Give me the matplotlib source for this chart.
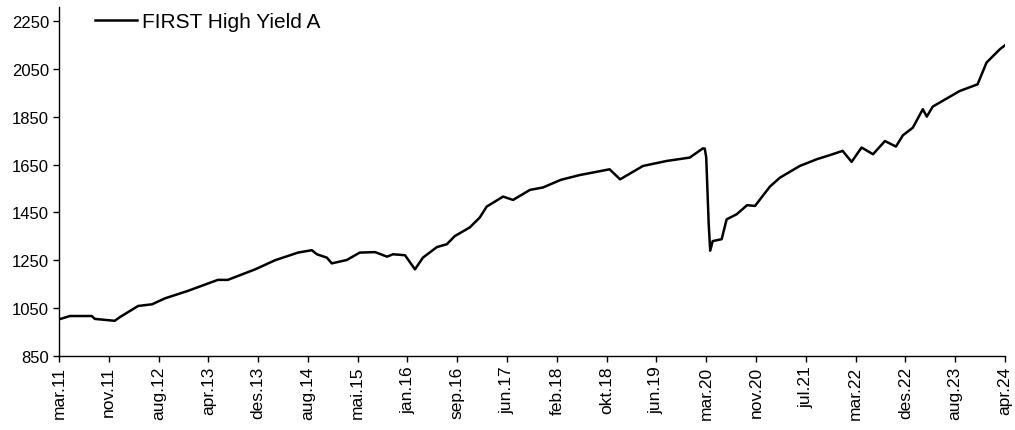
import matplotlib
matplotlib.use("Agg")
import matplotlib.pyplot as plt

# Category positions (in tick intervals from mar.11) and fund values
pos = [0.00, 0.22, 0.66, 0.72, 1.12, 1.22, 1.59, 1.87, 2.13, 2.59, 3.19, 3.39, 3.94,
       4.34, 4.80, 5.08, 5.18, 5.38, 5.48, 5.78, 6.04, 6.35, 6.59, 6.71, 6.95, 7.15,
       7.31, 7.59, 7.79, 7.95, 8.25, 8.45, 8.59, 8.92, 9.12, 9.46, 9.72, 10.08, 10.46,
       11.06, 11.27, 11.73, 12.21, 12.67, 12.93, 12.97, 13.00, 13.05, 13.08, 13.13,
       13.31, 13.41, 13.61, 13.82, 13.98, 14.28, 14.48, 14.88, 15.22, 15.48, 15.74,
       15.92, 16.12, 16.35, 16.59, 16.81, 16.95, 17.15, 17.35, 17.43, 17.55, 18.09,
       18.45, 18.63, 18.90, 19.00]
nav = [1003, 1017, 1017, 1005, 997, 1012, 1059, 1066, 1091, 1122, 1168, 1168, 1212,
       1250, 1282, 1292, 1275, 1261, 1237, 1251, 1282, 1284, 1265, 1275, 1271, 1212,
       1261, 1305, 1317, 1351, 1387, 1428, 1474, 1516, 1502, 1544, 1554, 1586, 1606,
       1630, 1588, 1644, 1665, 1679, 1717, 1717, 1680, 1400, 1290, 1330,
       1338, 1421, 1442, 1480, 1477, 1558, 1595, 1644, 1672, 1689, 1707,
       1661, 1721, 1693, 1748, 1725, 1772, 1804, 1881, 1850, 1892, 1957,
       1985, 2076, 2132, 2148]

tick_labels = ["mar.11", "nov.11", "aug.12", "apr.13", "des.13", "aug.14", "mai.15",
               "jan.16", "sep.16", "jun.17", "feb.18", "okt.18", "jun.19", "mar.20",
               "nov.20", "jul.21", "mar.22", "des.22", "aug.23", "apr.24"]
y_ticks = [850, 1050, 1250, 1450, 1650, 1850, 2050, 2250]

plt.rcParams["font.family"] = ["Liberation Sans", "DejaVu Sans"]

fig = plt.figure(figsize=(10.15, 4.31), dpi=100)
ax = fig.add_axes([0.0581, 0.1717, 0.932, 0.8097])

ax.plot(pos, nav, color="black", linewidth=1.8, label="FIRST High Yield A")

ax.set_xlim(0, len(tick_labels) - 1)
ax.set_ylim(850, 2308)
ax.set_xticks(range(len(tick_labels)))
ax.set_xticklabels(tick_labels, rotation=90, fontsize=12.5)
ax.set_yticks(y_ticks)
ax.tick_params(axis="y", labelsize=12, direction="out", length=4, width=1, pad=3)
ax.tick_params(axis="x", direction="out", length=4, width=1, pad=3)

for side in ["top", "right"]:
    ax.spines[side].set_visible(False)
for side in ["left", "bottom"]:
    ax.spines[side].set_linewidth(1.0)

ax.legend(loc="upper left", bbox_to_anchor=(0.038, 0.985), frameon=False,
          fontsize=15, handlelength=2.0, handletextpad=0.25, borderpad=0,
          borderaxespad=0)

fig.savefig("out.png", dpi=100)
